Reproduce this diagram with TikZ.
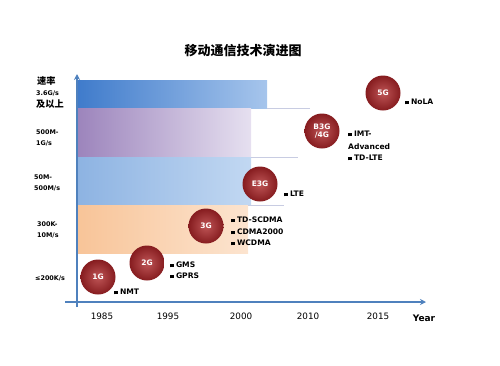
\documentclass[tikz,border=0pt]{standalone}
\usepackage{fontspec}
\setmainfont{DejaVu Sans}
\newfontfamily\cjk{Noto Sans CJK SC}
\usetikzlibrary{arrows.meta}
\definecolor{axisblue}{HTML}{4F81BD}
\definecolor{bandAl}{HTML}{3F7BCB}
\definecolor{bandAr}{HTML}{A6C5EC}
\definecolor{bandBl}{HTML}{9C84BC}
\definecolor{bandBr}{HTML}{E6E0F0}
\definecolor{bandCl}{HTML}{8DB3E2}
\definecolor{bandCr}{HTML}{C2D8F2}
\definecolor{bandDl}{HTML}{F8C498}
\definecolor{bandDr}{HTML}{FCE4CF}
\definecolor{genlight}{HTML}{BE5556}
\definecolor{gendark}{HTML}{861C1F}
\definecolor{edgeline}{HTML}{C8CCE2}
\newcommand\bul{\rule[0.3pt]{3.4pt}{3.4pt}\hspace{2.4pt}}
\tikzset{
  axisline/.style={draw=axisblue, line width=1.3pt, -{Stealth[length=6pt,width=6pt]}},
  bandedge/.style={draw=edgeline, line width=0.8pt},
  gen/.style={circle, minimum size=35pt, inner sep=0pt, shading=radial,
    inner color=genlight, outer color=gendark, text=white, align=center,
    font=\bfseries\fontsize{7.5}{8.5}\selectfont},
  item/.style={anchor=west, inner sep=0pt, font=\bfseries\fontsize{7.6}{9}\selectfont},
  ylab/.style={anchor=west, inner sep=0pt, font=\bfseries\fontsize{6.4}{8}\selectfont},
  ycjk/.style={anchor=west, inner sep=0pt, font=\cjk\bfseries\fontsize{9.2}{10}\selectfont},
  year/.style={inner sep=0pt, font=\fontsize{8.8}{10}\selectfont},
}
\begin{document}
\begin{tikzpicture}[x=1pt,y=-1pt]
\useasboundingbox (0,0) rectangle (500,365);
% title
\node[inner sep=0pt, font=\cjk\bfseries\fontsize{13}{14}\selectfont] (title) at (243,51) {移动通信技术演进图};
% bands
\shade[left color=bandAl, right color=bandAr] (77,80) rectangle (267,108);
\shade[left color=bandBl, right color=bandBr] (77,108) rectangle (251,157);
\shade[left color=bandCl, right color=bandCr] (77,157) rectangle (251,205);
\shade[left color=bandDl, right color=bandDr] (77,205) rectangle (248,253);
\draw[bandedge] (267,108) -- (310,108);
\draw[bandedge] (251,157) -- (298,157);
\draw[bandedge] (248,205) -- (284,205);
% axes
\coordinate (yfoot) at (77,307);
\coordinate (ytip) at (77,74);
\coordinate (xfoot) at (65,302);
\coordinate (xtip) at (426,302);
\draw[axisline] (yfoot) -- (ytip);
\draw[axisline] (xfoot) -- (xtip);
% y labels
\node[ycjk] (ya1) at (37,81) {速率};
\node[ylab] (ya2) at (36,93.5) {3.6G/s};
\node[ycjk] (ya3) at (36,104) {及以上};
\node[ylab] (yb1) at (36,132) {500M-};
\node[ylab] (yb2) at (36,143) {1G/s};
\node[ylab] (yc1) at (34,177) {50M-};
\node[ylab] (yc2) at (34,188) {500M/s};
\node[ylab] (yd1) at (37,224) {300K-};
\node[ylab] (yd2) at (37,235) {10M/s};
\node[ylab] (ye1) at (35,278) {≤200K/s};
% x labels
\node[year] (x1985) at (102,316) {1985};
\node[year] (x1995) at (168,316) {1995};
\node[year] (x2000) at (241,316) {2000};
\node[year] (x2010) at (308,316) {2010};
\node[year] (x2015) at (378,316) {2015};
\node[year, font=\bfseries\fontsize{9}{10}\selectfont] (xyear) at (424,318) {Year};
% generations
\node[gen] (g1) at (98,277) {1G};
\node[gen] (g2) at (147,263) {2G};
\node[gen] (g3) at (206,226) {3G};
\node[gen] (g35) at (260,184) {E3G};
\node[gen, font=\bfseries\fontsize{7.5}{8.6}\selectfont] (g4) at (322,131) {B3G\\/4G};
\node[gen] (g5) at (383,93) {5G};
% technologies
\node[item] (nmt) at (114,292) {\bul NMT};
\node[item] (gms) at (170,265) {\bul GMS};
\node[item] (gprs) at (170,276) {\bul GPRS};
\node[item] (tds) at (231,220) {\bul TD-SCDMA};
\node[item] (cdma) at (231,232) {\bul CDMA2000};
\node[item] (wcdma) at (231,243) {\bul WCDMA};
\node[item] (lte) at (284,194) {\bul LTE};
\node[item] (imt) at (348,134) {\bul IMT-};
\node[item] (adv) at (348,147) {Advanced};
\node[item] (tdlte) at (348,158) {\bul TD-LTE};
\node[item] (nola) at (405,102) {\bul NoLA};
\end{tikzpicture}
\end{document}
